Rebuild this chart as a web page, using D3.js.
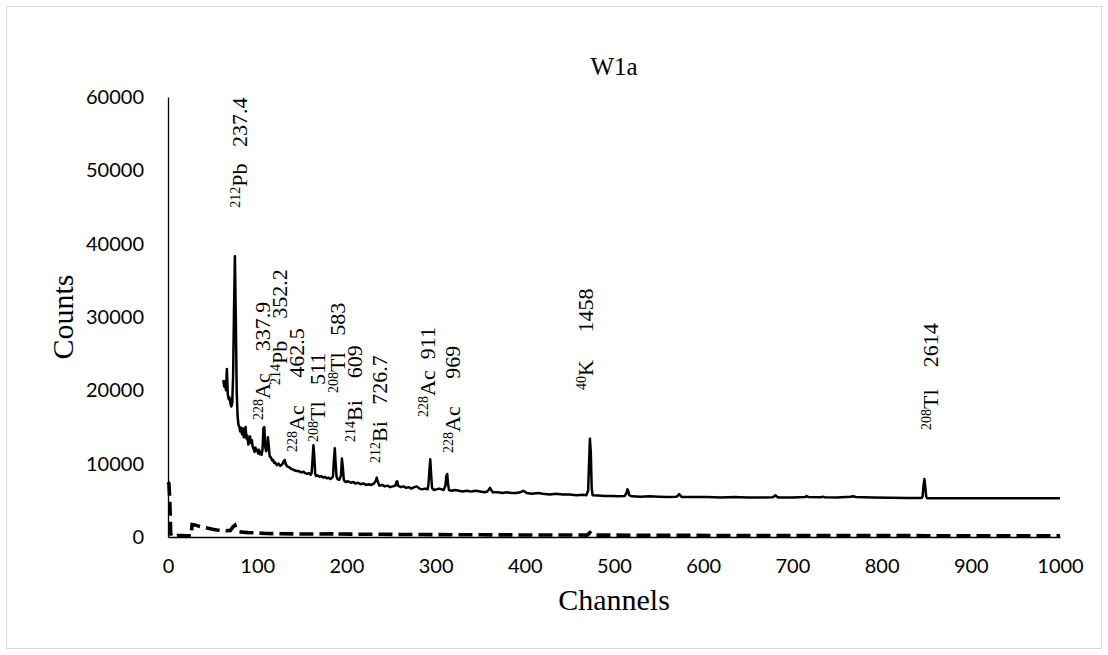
<!DOCTYPE html>
<html>
<head>
<meta charset="utf-8">
<script src="https://cdn.jsdelivr.net/npm/d3@7"></script>
<style>
  html, body { margin: 0; padding: 0; background: #fff; }
  svg { display: block; }
  .ann { white-space: pre; }
</style>
</head>
<body>
<svg id="chart" width="1108" height="655"></svg>
<script>
// Gamma spectrum of sample W1a: counts per channel, with the background run dashed.
const chartTitle = "W1a";
const xTitle = "Channels";
const yTitle = "Counts";
const xTicks = [0, 100, 200, 300, 400, 500, 600, 700, 800, 900, 1000];
const yTicks = [0, 10000, 20000, 30000, 40000, 50000, 60000];

// [channel, counts] for the sample spectrum
const sampleSpectrum = [
  [62,21400],[63,20500],[64,21200],[65,20000],[66,22900],[67,19500],[68,18800],[69,19000],
  [70,18200],[71,17800],[72,18300],[73,22000],[74,31000],[75,38300],[76,30000],[77,20000],
  [78,16500],[79,15300],[80,15000],[81,14400],[82,14900],[83,14000],[84,14800],[85,13600],
  [86,14200],[87,15000],[88,13400],[89,13800],[90,12600],[91,13300],[92,13700],[93,12800],
  [94,13200],[95,12300],[96,12000],[97,11600],[98,12200],[99,11800],[100,11900],[101,11400],
  [102,11900],[103,11300],[104,11600],[105,11200],[106,12000],[107,14800],[108,15000],[109,12300],
  [110,11700],[111,11900],[112,13600],[113,12400],[114,11000],[115,10900],[116,10700],[117,10400],
  [118,10500],[119,10100],[120,10200],[122,9800],[124,10000],[126,9700],[128,9900],[130,10400],
  [131,10500],[132,9900],[134,9600],[136,9500],[138,9300],[140,9200],[142,9100],[144,9000],
  [146,9000],[148,8900],[150,8800],[152,8900],[154,8700],[156,8600],[158,8700],[160,8500],
  [161,8700],[162,10500],[163,12500],[164,11000],[165,8600],[166,8300],[168,8400],[170,8200],
  [172,8300],[174,8100],[176,8200],[178,8000],[180,8100],[182,7900],[184,8100],[185,8300],
  [186,10500],[187,12100],[188,9800],[189,8200],[190,7900],[192,7800],[194,8400],[195,10700],
  [196,9500],[197,7900],[198,7600],[200,7500],[202,7600],[205,7400],[208,7500],[210,7300],
  [213,7400],[216,7200],[219,7300],[222,7100],[225,7200],[228,7100],[231,7300],[233,7700],
  [234,8100],[235,7600],[237,7000],[240,7100],[243,6900],[246,7000],[249,6800],[252,6900],
  [255,7000],[256,7500],[257,7600],[258,7000],[261,6800],[264,6900],[267,6700],[270,6800],
  [273,6600],[276,6800],[279,6900],[282,6600],[285,6500],[288,6600],[291,6500],[292,7200],
  [293,9000],[294,10600],[295,8500],[296,6700],[298,6400],[301,6500],[304,6600],[307,6500],
  [309,6400],[311,7000],[312,8300],[313,8600],[314,7200],[315,6400],[318,6300],[322,6400],
  [326,6300],[330,6200],[335,6300],[340,6200],[345,6300],[350,6200],[355,6100],[358,6200],
  [360,6500],[361,6700],[362,6500],[364,6100],[370,6100],[375,6000],[380,6100],[385,6000],
  [390,6000],[395,6100],[398,6300],[400,6200],[402,6000],[408,5900],[415,6000],[420,5900],
  [428,5800],[435,5900],[442,5800],[450,5800],[458,5700],[465,5750],[469,5700],[471,6300],
  [472,10000],[473,13400],[474,11500],[475,6600],[476,5700],[482,5650],[490,5600],[498,5600],
  [505,5550],[512,5600],[514,6000],[515,6500],[516,6300],[517,5700],[520,5550],[530,5500],
  [540,5550],[550,5500],[560,5450],[570,5500],[572,5700],[573,5850],[574,5700],[576,5450],
  [590,5450],[605,5450],[620,5400],[635,5450],[650,5400],[665,5400],[678,5420],[680,5600],
  [681,5700],[682,5550],[684,5400],[700,5400],[714,5450],[716,5580],[718,5450],[732,5420],
  [734,5500],[736,5420],[750,5400],[765,5480],[768,5550],[771,5450],[790,5380],[810,5350],
  [830,5320],[845,5330],[846,5600],[847,7000],[848,7900],[849,6800],[850,5500],[851,5300],
  [870,5300],[900,5290],[930,5280],[960,5280],[1000,5270]
];

// [channel, counts] for the background spectrum
const backgroundSpectrum = [
  [0,7500],[1,7300],[2,5000],[3,500],[4,100],[6,120],[10,200],[15,200],[20,150],[26,150],
  [27,1700],[30,1650],[35,1450],[40,1300],[45,1200],[50,1050],[55,950],[60,900],[65,850],
  [70,900],[73,1400],[75,1600],[77,1000],[80,700],[85,650],[90,600],[100,550],[110,480],
  [120,450],[140,420],[160,400],[186,420],[188,600],[190,400],[220,380],[260,350],[300,320],
  [350,300],[400,280],[470,260],[473,600],[476,260],[550,230],[650,200],[750,190],[850,180],
  [1000,170]
];

// Peak annotations: isotope mass number, element, gamma energy (keV)
const peakIsotopes = ["212","228","214","228","208","208","214","212","228","228","40","208"];
const peakElements = ["Pb","Ac","Pb","Ac","Tl","Tl","Bi","Bi","Ac","Ac","K","Tl"];
const peakEnergies = ["   237.4","    337.9","    352.2","     462.5","   511","   583",
                      "    609","   726.7","  911","     969","     1458","    2614"];
// Where each annotation starts, in channel / counts units
const labelChannels = [88.7,114.5,133.6,152.6,176.2,198.7,217.7,245.8,299.7,327.7,475.9,863];
const labelCounts = [44900,15960,20740,11600,12960,19650,12960,10100,16370,11460,20050,14600];

const svg = d3.select("#chart");
const W = 1108, H = 655;
const margin = { left: 168, right: 48, top: 97, bottom: 118 };

const x = d3.scaleLinear().domain([0, 1000]).range([margin.left, W - margin.right]);
const y = d3.scaleLinear().domain([0, 60000]).range([H - margin.bottom, margin.top]);

// chart frame
svg.append("rect")
  .attr("x", 6.5).attr("y", 6.5)
  .attr("width", W - 13).attr("height", H - 13)
  .attr("fill", "#fff").attr("stroke", "#d9d9d9").attr("stroke-width", 1);

const tickFont = "Lato, 'Noto Sans', sans-serif";
const serif = "'Liberation Serif', 'Times New Roman', serif";

// y axis
const yAxis = svg.append("g")
  .attr("transform", `translate(${x(0)},0)`)
  .call(d3.axisLeft(y).tickValues(yTicks).tickSize(0).tickPadding(24).tickFormat(d3.format("d")));
yAxis.select(".domain").attr("stroke", "#000").attr("stroke-width", 1.3);
yAxis.selectAll("text").attr("font-family", tickFont).attr("font-size", 20).attr("fill", "#000");

// x axis
const xAxis = svg.append("g")
  .attr("transform", `translate(0,${y(0)})`)
  .call(d3.axisBottom(x).tickValues(xTicks).tickSize(0).tickPadding(22).tickFormat(d3.format("d")));
xAxis.select(".domain").attr("stroke", "#000").attr("stroke-width", 1.3);
xAxis.selectAll("text").attr("font-family", tickFont).attr("font-size", 20).attr("fill", "#000");

const line = d3.line().x(d => x(d[0])).y(d => y(d[1]));

svg.append("path")
  .datum(backgroundSpectrum)
  .attr("d", line)
  .attr("fill", "none")
  .attr("stroke", "#000")
  .attr("stroke-width", 3.6)
  .attr("stroke-dasharray", "14,6");

svg.append("path")
  .datum(sampleSpectrum)
  .attr("d", line)
  .attr("fill", "none")
  .attr("stroke", "#000")
  .attr("stroke-width", 2.5)
  .attr("stroke-linejoin", "round");

// titles
svg.append("text")
  .attr("x", (x(0) + x(1000)) / 2).attr("y", 75)
  .attr("text-anchor", "middle")
  .attr("font-family", serif).attr("font-size", 25)
  .text(chartTitle);

svg.append("text")
  .attr("x", (x(0) + x(1000)) / 2).attr("y", 610)
  .attr("text-anchor", "middle")
  .attr("font-family", serif).attr("font-size", 30)
  .text(xTitle);

svg.append("text")
  .attr("transform", `translate(73,${(y(0) + y(60000)) / 2}) rotate(-90)`)
  .attr("text-anchor", "middle")
  .attr("font-family", serif).attr("font-size", 30)
  .text(yTitle);

// rotated peak labels
const ann = svg.append("g").attr("font-family", serif).attr("fill", "#000");
peakIsotopes.forEach((iso, i) => {
  const t = ann.append("text")
    .attr("class", "ann")
    .attr("transform", `translate(${x(labelChannels[i])},${y(labelCounts[i])}) rotate(-90)`);
  t.append("tspan").attr("font-size", 14).attr("dy", -7).text(iso);
  t.append("tspan").attr("font-size", 22).attr("dy", 7).text(peakElements[i]);
  t.append("tspan").attr("font-size", 22).text(peakEnergies[i]);
});
</script>
</body>
</html>
